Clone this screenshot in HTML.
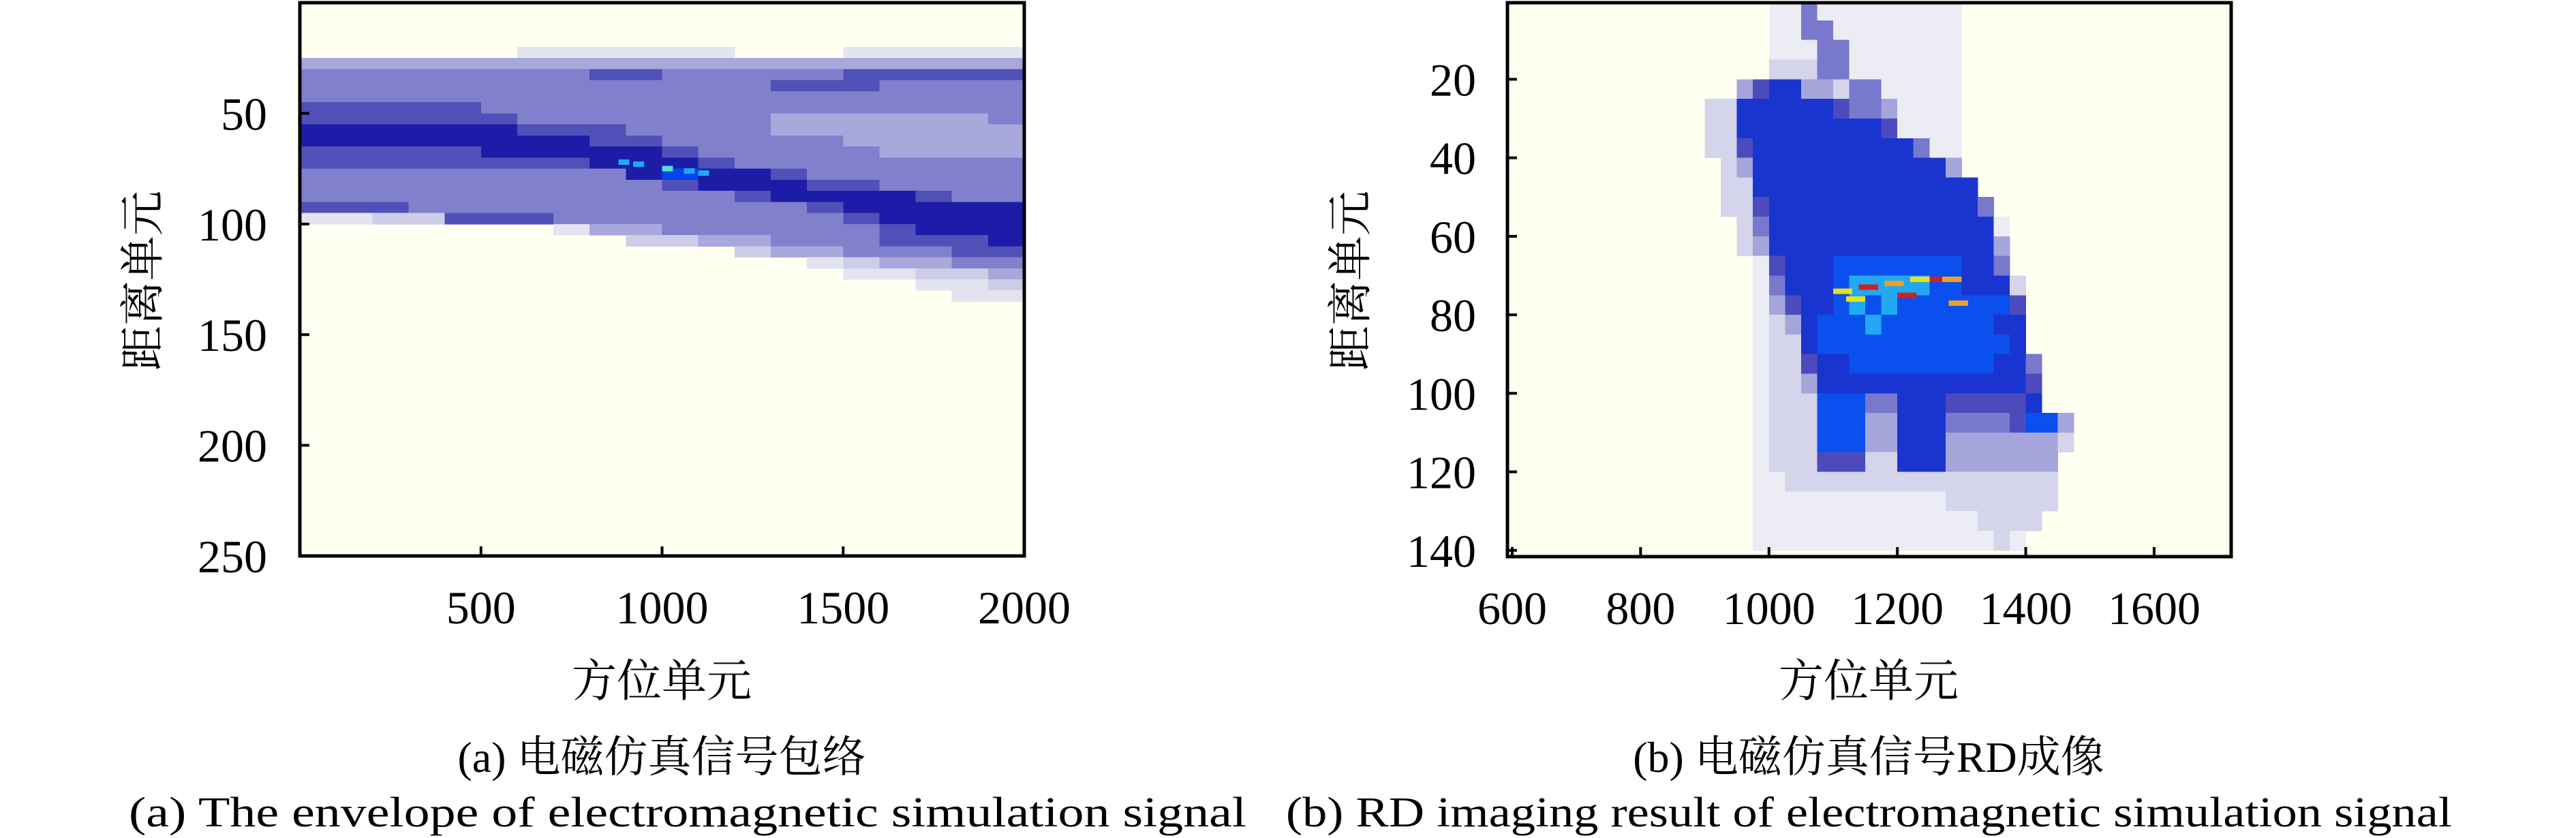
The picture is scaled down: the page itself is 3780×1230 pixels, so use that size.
<!DOCTYPE html>
<html><head><meta charset="utf-8"><style>
html,body{margin:0;padding:0;background:#fff;}
svg{display:block;}
text{font-family:"Liberation Serif","Noto Serif CJK SC",serif;fill:#000;}
</style></head><body>
<svg id="fig" width="3780" height="1230" viewBox="0 0 3780 1230" xmlns="http://www.w3.org/2000/svg">
<g id="pa"></g>
<g id="pb"></g>
<text transform="translate(232,412) rotate(-90)" text-anchor="middle" font-size="66">距离单元</text>
<text x="971" y="1022" text-anchor="middle" font-size="66">方位单元</text>
<text x="971" y="1133" text-anchor="middle" font-size="64">(a) 电磁仿真信号包络</text>
<text x="189" y="1213" font-size="62" textLength="1640" lengthAdjust="spacingAndGlyphs">(a) The envelope of electromagnetic simulation signal</text>
<text transform="translate(2004,412) rotate(-90)" text-anchor="middle" font-size="66">距离单元</text>
<text x="2742" y="1022" text-anchor="middle" font-size="66">方位单元</text>
<text x="2742" y="1133" text-anchor="middle" font-size="64">(b) 电磁仿真信号RD成像</text>
<text x="1887" y="1213" font-size="62" textLength="1711" lengthAdjust="spacingAndGlyphs">(b) RD imaging result of electromagnetic simulation signal</text>
</svg>
<script>
// ---- colormap levels ----
const aColors = ["#fffff2","#e4e4f0","#cdcde8","#a8a8dc","#8080cc","#5050b8","#1c1ca8","#0046eb","#1eaaf5","#50e0d0"];
const bColors = ["#fffff2","#ececf5","#d4d4ea","#a5a5dc","#7878cd","#4b4bbe","#1a34d0","#0a50ee","#22a8f0","#60d0c0"];

// ---- chart (a) data ----
const aXTicks = [500, 1000, 1500, 2000];
const aYTicks = [50, 100, 150, 200, 250];
const aColStart = 0, aColStep = 100;
const aRowStart = 20, aRowStep = 5;
const aGrid = [
"00000011111100011111",
"33333333333333333333",
"44444444554444455555",
"44444444444445554444",
"44444444444444444444",
"55555444444444444444",
"55555544444443333334",
"66666655544443333333",
"66666666554444433333",
"55555666665444443333",
"55555555666544444444",
"44444444467665444444",
"44444444445666554444",
"44444444444456666544",
"55544444444444566666",
"11225554444444456666",
"00000001334444445666",
"00000000022334445556",
"00000000000023344455",
"00000000000000123344",
"00000000000000011223",
"00000000000000000112",
"00000000000000000011"
];
const aHotX = [880, 920, 1000, 1060, 1100];
const aHotY = [72, 73, 75, 76, 77];
const aHotLevel = [8, 8, 9, 8, 8];

// ---- chart (b) data ----
const bXTicks = [600, 800, 1000, 1200, 1400, 1600];
const bYTicks = [20, 40, 60, 80, 100, 120, 140];
const bColStart = 850, bColStep = 25;
const bRowStart = 0, bRowStep = 5;
const bGrid = [
"00000011411111111100000000",
"00000011441111111100000000",
"00000011144111111100000000",
"00000022244111111100000000",
"00003566332441111100000000",
"00226666665443111100000000",
"00226666666665111100000000",
"00225666666666641100000000",
"00023666666666666300000000",
"00022666666666666660000000",
"00022566666666666664000000",
"00002466666666666666100000",
"00002366666666666666300000",
"00000156667777777766400000",
"00000146667888887766620000",
"00000135667878777777750000",
"00000123677787777777660000",
"00000122677777777777760000",
"00000122566777777777664000",
"00000122366666666666665000",
"00000122277744666555556000",
"00000122277733666444457730",
"00000122277733666333333320",
"00000122255522666333333300",
"00000112222222222222222200",
"00000111111111111222222200",
"00000111111111111112222000",
"00000111111111111111210000"
];
const bHotX = [1100, 1140, 1180, 1220, 1250, 1270, 1120, 1200, 1280];
const bHotY = [74, 73, 72, 71, 71, 71, 76, 75, 77];
const bHotLevel = [9, 9, 9, 9, 9, 9, 9, 9, 9];

const NS = "http://www.w3.org/2000/svg";
function mk(tag, attrs, parent){ const e=document.createElementNS(NS,tag); for(const k in attrs) e.setAttribute(k,attrs[k]); parent.appendChild(e); return e; }

function drawChart(g, o){
  const sx = v => o.L + (v - o.x0) * (o.R - o.L) / (o.x1 - o.x0);
  const sy = v => o.T + (v - o.y0) * (o.B - o.T) / (o.y1 - o.y0);
  const bg = mk("rect",{x:o.L,y:o.T,width:o.R-o.L,height:o.B-o.T,fill:o.pal[0]},g);
  
  
  const cells = mk("g",{"shape-rendering":"crispEdges"},g);
  
  
  o.grid.forEach((row, ri) => {
    for (let ci = 0; ci < row.length; ci++) {
      const lv = +row[ci];
      if (!lv) continue;
      const xa = sx(o.c0 + ci*o.cs), xb = sx(o.c0 + (ci+1)*o.cs);
      const ya = sy(o.r0 + ri*o.rs), yb = sy(o.r0 + (ri+1)*o.rs);
      const r = mk("rect",{x:Math.max(xa,o.L),y:Math.max(ya,o.T),width:Math.min(xb,o.R)-Math.max(xa,o.L)+0.5,height:Math.min(yb,o.B)-Math.max(ya,o.T)+0.5,fill:o.pal[lv]},cells);
      
      
    }
  });
  (o.hx||[]).forEach((hx,i)=>{
    const r = mk("rect",{x:sx(hx),y:sy(o.hy[i])-4,width:sx(hx+30)-sx(hx),height:8,fill:o.hc ? o.hc[i%o.hc.length] : o.pal[o.hl[i]]},cells);
    
    
  });
  const fr = mk("rect",{x:o.L,y:o.T,width:o.R-o.L,height:o.B-o.T,fill:"none",stroke:"#000","stroke-width":5},g);
  
  
  o.xt.forEach(v=>{
    const x=sx(v);
    const t=mk("line",{x1:x,x2:x,y1:o.B,y2:o.B-14,stroke:"#000","stroke-width":4},g);
    
    
    const l=mk("text",{x:x,y:o.B+99,"text-anchor":"middle","font-size":68},g);
    l.textContent=v;
    
    
  });
  o.yt.forEach(v=>{
    const y=sy(v);
    const t=mk("line",{x1:o.L,x2:o.L+14,y1:y,y2:y,stroke:"#000","stroke-width":4},g);
    
    
    const l=mk("text",{x:o.lblR,y:y+24,"text-anchor":"end","font-size":68},g);
    l.textContent=v;
    
    
  });
}
drawChart(document.getElementById("pa"),{pre:"envelope",pal:aColors,L:440,R:1503,T:4,B:816,x0:0,x1:2000,y0:0,y1:250,
  grid:aGrid,c0:aColStart,cs:aColStep,r0:aRowStart,rs:aRowStep,xt:aXTicks,yt:aYTicks,lblR:392,
  hx:aHotX,hy:aHotY,hl:aHotLevel});
drawChart(document.getElementById("pb"),{pre:"rd",pal:bColors,L:2212,R:3274,T:4,B:817,x0:592.6,x1:1720,y0:0.5,y1:141.6,
  grid:bGrid,c0:bColStart,cs:bColStep,r0:bRowStart,rs:bRowStep,xt:bXTicks,yt:bYTicks,lblR:2166,
  hx:bHotX,hy:bHotY,hl:bHotLevel,hc:["#e8e020","#d02020","#f0a020"]});
</script>
</body></html>
